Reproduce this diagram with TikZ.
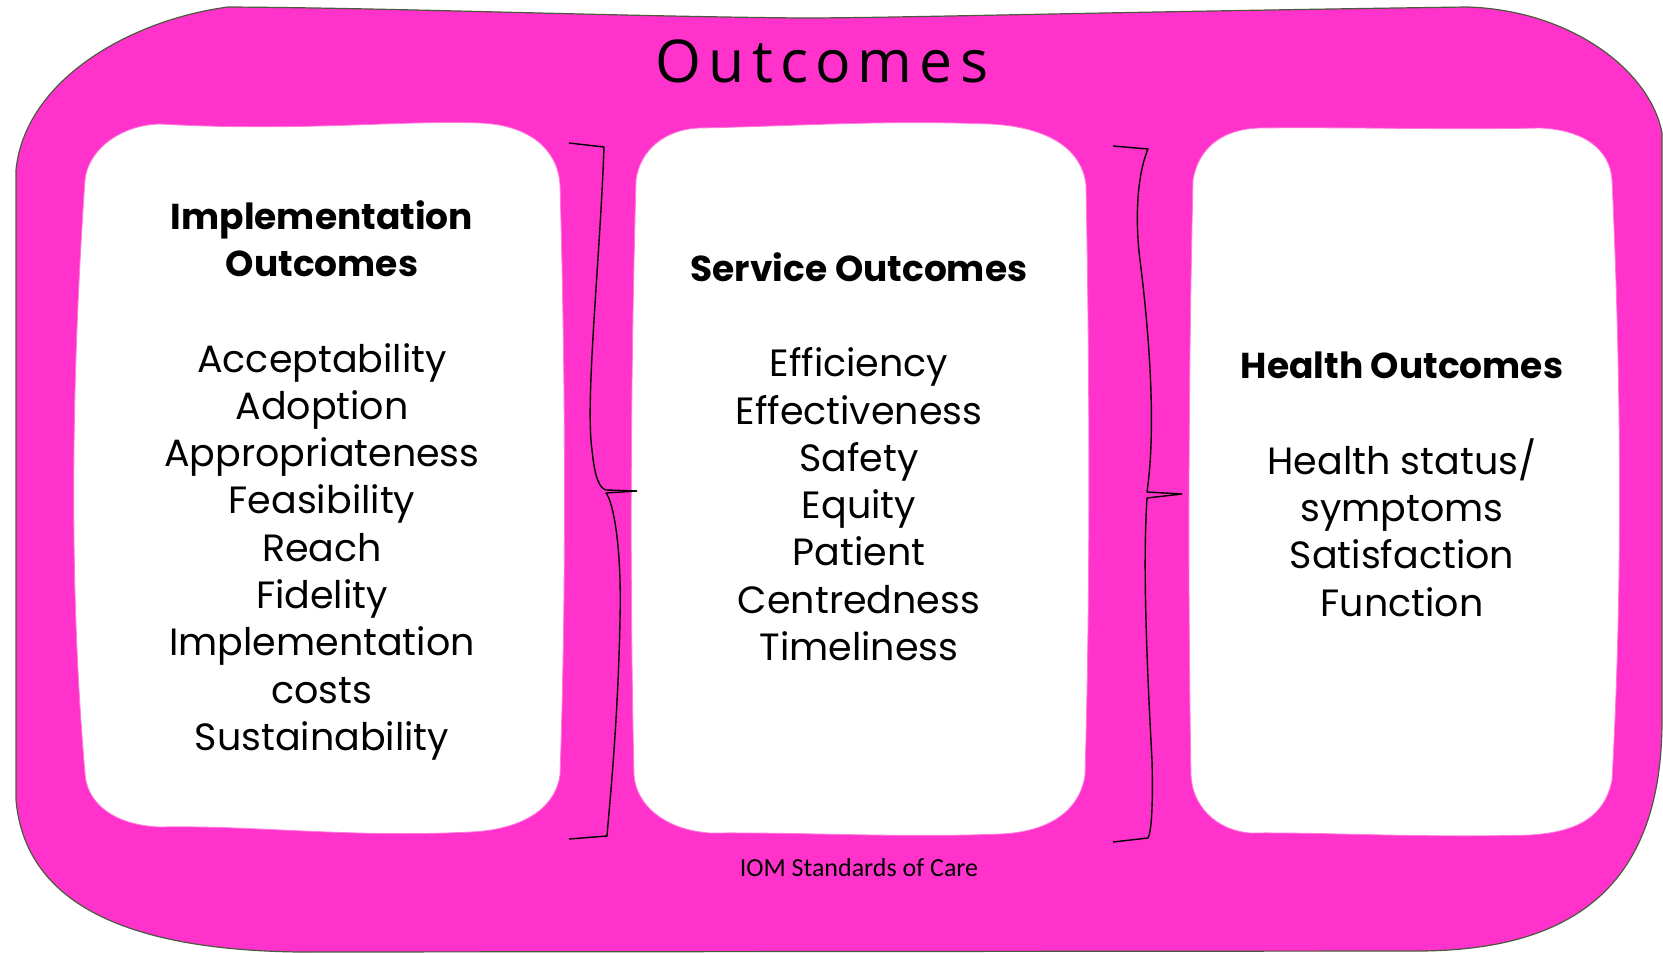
\documentclass[tikz,border=0pt]{standalone}
\usepackage{fontspec}
\setmainfont{Poppins}
\newfontfamily\titlefont[LetterSpace=12]{Open Sans}
\newfontfamily\calfont{Carlito}
\definecolor{hotpink}{RGB}{255,51,204}
\definecolor{lightpink}{RGB}{255,120,220}
\definecolor{rimcol}{RGB}{75,90,60}
\tikzset{
  item/.style={anchor=mid, inner sep=0pt, font=\fontsize{38}{42}\selectfont},
  head/.style={anchor=mid, inner sep=0pt, font=\fontsize{36}{42}\selectfont\bfseries},
  whitebox/.style={fill=white, draw=lightpink, line width=0.8pt},
  bracel/.style={draw=black, line width=1.4pt, line join=round},
}
\begin{document}
\begin{tikzpicture}[x=1pt,y=-1pt]
\useasboundingbox (0,0) rectangle (1663,953);
% outer frame
\path[fill=hotpink, draw=rimcol, line width=1.2pt]
  (228,7) .. controls (130,20) and (25,80) .. (16,170)
  -- (16,800) .. controls (25,900) and (120,950) .. (300,952)
  -- (1420,951) .. controls (1580,950) and (1662,880) .. (1662,720)
  -- (1662,133) .. controls (1650,70) and (1570,10) .. (1467,7)
  .. controls (1100,12) and (900,18) .. (800,18)
  .. controls (600,16) and (400,8) .. (228,7) -- cycle;
% white boxes
\path[whitebox]
  (160,124) .. controls (300,132) and (400,120) .. (480,123)
  .. controls (530,125) and (558,150) .. (560,185)
  .. controls (566,400) and (566,600) .. (560,775)
  .. controls (555,810) and (520,830) .. (470,832)
  .. controls (350,838) and (250,825) .. (160,827)
  .. controls (110,825) and (86,800) .. (85,773)
  .. controls (70,600) and (70,400) .. (85,180)
  .. controls (88,150) and (120,125) .. (160,124) -- cycle;
\path[whitebox]
  (700,128) .. controls (800,126) and (880,120) .. (990,124)
  .. controls (1050,127) and (1082,150) .. (1086,185)
  .. controls (1090,400) and (1090,600) .. (1085,775)
  .. controls (1080,810) and (1050,832) .. (1000,834)
  .. controls (900,838) and (800,832) .. (710,833)
  .. controls (665,830) and (636,805) .. (634,775)
  .. controls (630,600) and (630,400) .. (636,180)
  .. controls (640,150) and (665,129) .. (700,128) -- cycle;
\path[whitebox]
  (1260,128) .. controls (1350,127) and (1450,130) .. (1540,128)
  .. controls (1585,130) and (1610,150) .. (1612,180)
  .. controls (1622,400) and (1622,600) .. (1612,780)
  .. controls (1605,815) and (1580,832) .. (1530,835)
  .. controls (1420,838) and (1320,832) .. (1250,833)
  .. controls (1215,830) and (1192,805) .. (1191,775)
  .. controls (1188,600) and (1188,400) .. (1193,180)
  .. controls (1198,150) and (1220,129) .. (1260,128) -- cycle;
% braces
\draw[bracel] (569,143) -- (604,147) .. controls (600,260) and (585,400) .. (592,450)
  .. controls (595,480) and (600,488) .. (606,490) -- (637,491);
\draw[bracel] (637,491) -- (606,493) .. controls (612,500) and (622,540) .. (620,620)
  .. controls (618,720) and (610,800) .. (607,836) -- (569,839);
\draw[bracel] (1113,146) -- (1148,149) .. controls (1135,180) and (1136,230) .. (1140,260)
  .. controls (1150,340) and (1156,430) .. (1147,492) -- (1182,494);
\draw[bracel] (1182,494) -- (1147,498) .. controls (1143,560) and (1146,650) .. (1152,760)
  .. controls (1153,800) and (1152,830) .. (1148,838) -- (1113,842);
% title
\node[anchor=base, inner sep=0pt, font=\titlefont\fontsize{59}{64}\selectfont] (title) at (822,82) {Outcomes};
% column 1
\node[head] (h1a) at (322,226.4) {Implementation};
\node[head] (h1b) at (322,273.7) {Outcomes};
\node[item] (a1) at (322,369.3) {Acceptability};
\node[item] (a2) at (322,416.6) {Adoption};
\node[item] (a3) at (322,463.9) {Appropriateness};
\node[item] (a4) at (322,511.2) {Feasibility};
\node[item] (a5) at (322,558.5) {Reach};
\node[item] (a6) at (322,605.8) {Fidelity};
\node[item] (a7) at (322,653.1) {Implementation};
\node[item] (a8) at (322,700.4) {costs};
\node[item] (a9) at (322,747.7) {Sustainability};
% column 2
\node[head] (h2) at (859,278.4) {Service Outcomes};
\node[item] (b1) at (859,374.0) {Efficiency};
\node[item] (b2) at (859,421.3) {Effectiveness};
\node[item] (b3) at (859,468.6) {Safety};
\node[item] (b4) at (859,515.9) {Equity};
\node[item] (b5) at (859,563.2) {Patient};
\node[item] (b6) at (859,610.5) {Centredness};
\node[item] (b7) at (859,657.8) {Timeliness};
% column 3
\node[head] (h3) at (1402,376.0) {Health Outcomes};
\node[item] (c1) at (1402,471.6) {Health status/};
\node[item] (c2) at (1402,518.9) {symptoms};
\node[item] (c3) at (1402,566.2) {Satisfaction};
\node[item] (c4) at (1402,613.5) {Function};
% footer
\node[anchor=mid, inner sep=0pt, font=\calfont\fontsize{26}{30}\selectfont] (iom) at (859,874) {IOM Standards of Care};
\end{tikzpicture}
\end{document}
